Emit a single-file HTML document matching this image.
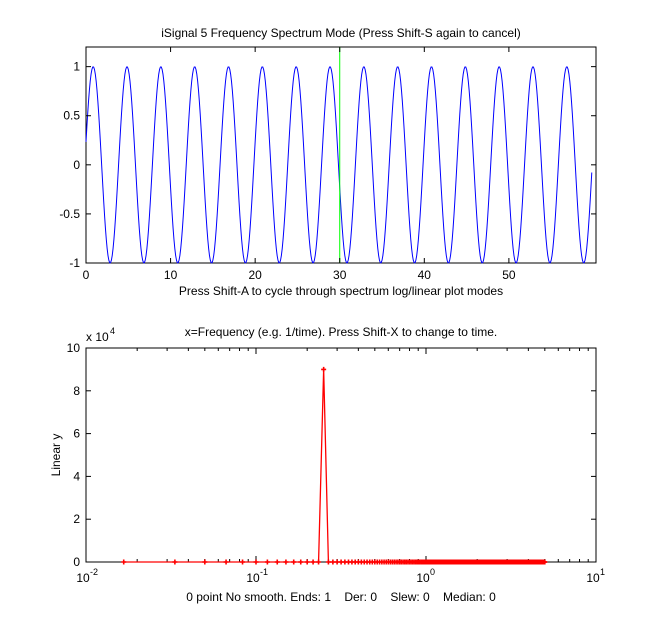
<!DOCTYPE html>
<html><head><meta charset="utf-8"><style>
body{margin:0;background:#fff;}
svg text{font-family:"Liberation Sans",Arial,sans-serif;font-size:12px;fill:#000;}
</style></head><body>
<svg id="fig" width="658" height="633" xmlns="http://www.w3.org/2000/svg">
<rect x="0" y="0" width="658" height="633" fill="#fff"/>
<g id="top"></g>
<g id="bot"></g>
</svg>
<script>
// ---- top chart data ----
const topXTicks=[0,10,20,30,40,50];
const topYTicks=[-1,-0.5,0,0.5,1];
const topYTickLabels=["-1","-0.5","0","0.5","1"];
const signalPeriod=[4];
const signalAmplitude=[1];
const signalPhase=[0.15];
const signalRange=[0,59.9];
const cursorX=[30];
// ---- bottom chart data ----
const botXTicks=[0.01,0.1,1,10];
const botXTickExp=["-2","-1","0","1"];
const botYTicks=[0,2,4,6,8,10];
const sampleInterval=[60];
const spectrumPeak=[15,9];   // index (k), value (x1e4)
const spectrumCount=[300];

const NS="http://www.w3.org/2000/svg";
function el(tag,attrs,parent,txt){const e=document.createElementNS(NS,tag);for(const k in attrs)e.setAttribute(k,attrs[k]);if(txt!==undefined)e.textContent=txt;parent.appendChild(e);return e;}

// ---- top ----
const T=document.getElementById('top');
const tx0=86,tx1=596,ty0=47,ty1=263,txmin=0,txmax=60.3,tymin=-1,tymax=1.2;
const tX=v=>tx0+(v-txmin)/(txmax-txmin)*(tx1-tx0);
const tY=v=>ty1-(v-tymin)/(tymax-tymin)*(ty1-ty0);
let r=el('rect',{x:tx0,y:ty0,width:tx1-tx0,height:ty1-ty0,fill:'#fff',stroke:'#000','stroke-width':1},T);


let pts=[];
for(let x=signalRange[0];x<=signalRange[1];x+=0.1){pts.push(tX(x).toFixed(2)+','+tY(signalAmplitude[0]*Math.sin(2*Math.PI*(x+signalPhase[0])/signalPeriod[0])).toFixed(2));}
let pl=el('polyline',{points:pts.join(' '),fill:'none',stroke:'#0000ff','stroke-width':1},T);


let cl=el('line',{x1:tX(cursorX[0]),x2:tX(cursorX[0]),y1:ty0,y2:ty1,stroke:'#00ff00','stroke-width':1},T);


topXTicks.forEach(v=>{const x=tX(v);
 el('line',{x1:x,x2:x,y1:ty1,y2:ty1-5,stroke:'#000'},T);el('line',{x1:x,x2:x,y1:ty0,y2:ty0+5,stroke:'#000'},T);
 let t=el('text',{x:x,y:ty1+16,'text-anchor':'middle'},T,String(v));
 
 });
topYTicks.forEach((v,i)=>{const y=tY(v);
 el('line',{x1:tx0,x2:tx0+5,y1:y,y2:y,stroke:'#000'},T);el('line',{x1:tx1,x2:tx1-5,y1:y,y2:y,stroke:'#000'},T);
 let t=el('text',{x:tx0-6,y:y+4,'text-anchor':'end'},T,topYTickLabels[i]);
 
 });
let tt=el('text',{x:341,y:37,'text-anchor':'middle'},T,'iSignal 5 Frequency Spectrum Mode (Press Shift-S again to cancel)');


let tl=el('text',{x:341,y:295,'text-anchor':'middle'},T,'Press Shift-A to cycle through spectrum log/linear plot modes');



// ---- bottom ----
const B=document.getElementById('bot');
const bx0=86,bx1=596,by0=348,by1=562;
const bX=v=>bx0+(Math.log10(v)+2)/3*(bx1-bx0);
const bY=v=>by1-v/10*(by1-by0);
let r2=el('rect',{x:bx0,y:by0,width:bx1-bx0,height:by1-by0,fill:'#fff',stroke:'#000','stroke-width':1},B);


for(let d=-2;d<1;d++){for(let m=2;m<=9;m++){const x=bX(m*Math.pow(10,d));
 el('line',{x1:x,x2:x,y1:by1,y2:by1-3,stroke:'#000'},B);el('line',{x1:x,x2:x,y1:by0,y2:by0+3,stroke:'#000'},B);}}
botXTicks.forEach((v,i)=>{const x=bX(v);
 el('line',{x1:x,x2:x,y1:by1,y2:by1-6,stroke:'#000'},B);el('line',{x1:x,x2:x,y1:by0,y2:by0+6,stroke:'#000'},B);
 let t=el('text',{x:x-3,y:by1+20,'text-anchor':'middle'},B,'10');
 
 
 let e=el('text',{x:x+4,y:by1+13,'text-anchor':'start'},B,botXTickExp[i]);
 e.setAttribute('style','font-size:9px');
 
 });
botYTicks.forEach(v=>{const y=bY(v);
 el('line',{x1:bx0,x2:bx0+5,y1:y,y2:y,stroke:'#000'},B);el('line',{x1:bx1,x2:bx1-5,y1:y,y2:y,stroke:'#000'},B);
 let t=el('text',{x:bx0-6,y:y+4,'text-anchor':'end'},B,String(v));
 
 });
let sp=[];
for(let k=1;k<=spectrumCount[0];k++){const f=k/sampleInterval[0];const v=(k===spectrumPeak[0])?spectrumPeak[1]:0;sp.push([bX(f),bY(v)]);}
let sl=el('polyline',{points:sp.map(p=>p[0].toFixed(2)+','+p[1].toFixed(2)).join(' '),fill:'none',stroke:'#ff0000','stroke-width':1.3},B);


sp.forEach(p=>{const g=el('path',{d:`M${p[0]-2.5},${p[1]}h5M${p[0]},${p[1]-2.5}v5`,stroke:'#ff0000','stroke-width':1.6},B);
 
 });
let bt=el('text',{x:341,y:336,'text-anchor':'middle'},B,'x=Frequency (e.g. 1/time). Press Shift-X to change to time.');


let mul=el('text',{x:86,y:341},B,'x 10');


let me=el('text',{x:110,y:334},B,'4');
me.setAttribute('style','font-size:9px');


let yl=el('text',{x:60,y:455,'text-anchor':'middle',transform:'rotate(-90 60 455)'},B,'Linear y');


let bl=el('text',{x:341,y:601,'text-anchor':'middle'},B,'0 point No smooth. Ends: 1    Der: 0    Slew: 0    Median: 0');
bl.setAttribute('style','white-space:pre');


</script>
</body></html>
